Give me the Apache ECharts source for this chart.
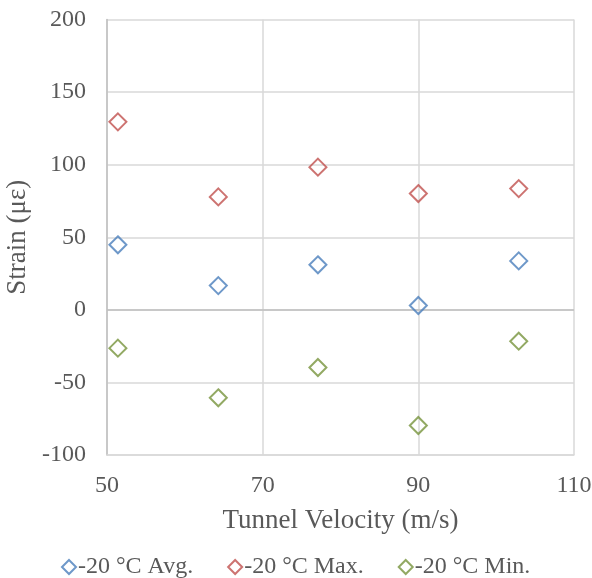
<!DOCTYPE html>
<html>
<head>
<meta charset="utf-8">
<script src="https://cdn.jsdelivr.net/npm/echarts@6/dist/echarts.min.js"></script>
<style>html,body{margin:0;padding:0;background:#fff}#c{width:592px;height:578px}</style>
</head>
<body>
<div id="c"></div>
<script>
var velocities = [51.4, 64.3, 77.1, 90.0, 102.9];
var avgStrain = [44.8, 16.7, 31.0, 3.0, 33.7];
var maxStrain = [129.5, 77.8, 98.3, 80.1, 83.5];
var minStrain = [-26.4, -60.6, -39.7, -79.7, -21.6];
var seriesNames = ['-20 °C Avg.', '-20 °C Max.', '-20 °C Min.'];
var colors = ['#4A7EBB', '#C0504D', '#77933C'];

function pairs(vals) { return velocities.map(function (v, i) { return [v, vals[i]]; }); }

var font = '"Liberation Serif", "Times New Roman", serif';
var chart = echarts.init(document.getElementById('c'));
var data = [avgStrain, maxStrain, minStrain];
var series = data.map(function (vals, k) {
  var s = {
    name: seriesNames[k],
    type: 'scatter',
    symbol: 'diamond',
    symbolSize: 17,
    itemStyle: { color: 'rgba(0,0,0,0)', borderColor: colors[k], borderWidth: 2 },
    data: pairs(vals),
    z: 3
  };
  if (k === 0) {
    s.markLine = {
      silent: true, symbol: 'none', label: { show: false },
      lineStyle: { color: '#BFBFBF', width: 1.5, type: 'solid' },
      data: [{ yAxis: 0 }], z: 1, animation: false
    };
  }
  return s;
});

chart.setOption({
  animation: false,
  grid: { left: 107, right: 18, top: 19.5, bottom: 123, containLabel: false, outerBoundsMode: 'none' },
  textStyle: { fontFamily: font },
  legend: {
    top: 550, left: 56,
    itemWidth: 14, itemHeight: 14, itemGap: 34,
    icon: 'diamond',
    data: seriesNames.map(function (n, k) {
      return { name: n, itemStyle: { color: 'rgba(0,0,0,0)', borderColor: colors[k], borderWidth: 2 } };
    }),
    textStyle: { fontFamily: font, fontSize: 24, color: '#595959', padding: [0, 0, 0, -3] }
  },
  xAxis: {
    type: 'value', min: 50, max: 110, interval: 20,
    name: 'Tunnel Velocity (m/s)', nameLocation: 'middle', nameGap: 52,
    nameTextStyle: { fontFamily: font, fontSize: 27, color: '#595959' },
    axisLine: { show: true, onZero: false, lineStyle: { color: '#D9D9D9', width: 1.5 } },
    axisTick: { show: false },
    axisLabel: { fontFamily: font, fontSize: 24, color: '#595959', margin: 19 },
    splitLine: { show: true, lineStyle: { color: '#D9D9D9', width: 1.5 } }
  },
  yAxis: {
    type: 'value', min: -100, max: 200, interval: 50,
    name: 'Strain (με)', nameLocation: 'middle', nameGap: 72,
    nameTextStyle: { fontFamily: font, fontSize: 27, color: '#595959' },
    axisLine: { show: true, lineStyle: { color: '#BFBFBF', width: 1.5 } },
    axisTick: { show: false },
    axisLabel: { fontFamily: font, fontSize: 24, color: '#595959', margin: 21 },
    splitLine: { show: true, lineStyle: { color: '#D9D9D9', width: 1.5 } }
  },
  series: series
});
</script>
</body>
</html>
